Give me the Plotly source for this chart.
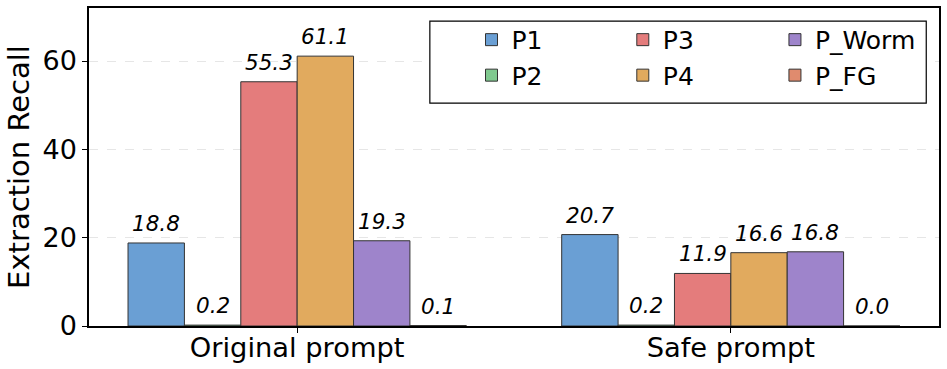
import plotly.graph_objects as go

categories = ["Original prompt", "Safe prompt"]
series_names = ["P1", "P2", "P3", "P4", "P_Worm", "P_FG"]
P1 = [18.8, 20.7]
P2 = [0.2, 0.2]
P3 = [55.3, 11.9]
P4 = [61.1, 16.6]
P_Worm = [19.3, 16.8]
P_FG = [0.1, 0.0]
values = [P1, P2, P3, P4, P_Worm, P_FG]
colors = ["#6a9fd4", "#80c98f", "#e47c7c", "#e1aa5e", "#9e84cb", "#e08b6e"]
y_ticks = [0, 20, 40, 60]

FONT = "DejaVu Sans"
legend_of = ["legend", "legend", "legend2", "legend2", "legend3", "legend3"]
BARGAP = 0.22
n = len(series_names)
bar_w = (1 - BARGAP) / n

fig = go.Figure()
xpos = list(range(len(categories)))
for i, (name, vals) in enumerate(zip(series_names, values)):
    fig.add_trace(go.Bar(
        x=xpos, y=vals, name=name,
        marker=dict(color=colors[i], line=dict(color="#333333", width=1)),
        legend=legend_of[i],
        legendgroup=name,
    ))
    for xc, v in zip(xpos, vals):
        fig.add_annotation(
            x=xc + (i - (n - 1) / 2) * bar_w, y=v, xref="x", yref="y",
            text=f"{v:.1f}", showarrow=False, yanchor="bottom", yshift=5,
            font=dict(family=FONT, size=21.5, color="black", style="italic"),
        )

legend_common = dict(
    font=dict(family=FONT, size=25, color="black"),
    bgcolor="rgba(0,0,0,0)", borderwidth=0,
    orientation="v", yanchor="top", xanchor="left",
    tracegroupgap=0, y=0.972,
)
fig.update_layout(
    width=947, height=369,
    margin=dict(l=89, r=8, t=8, b=43),
    paper_bgcolor="white", plot_bgcolor="white",
    barmode="group", bargap=BARGAP, bargroupgap=0,
    font=dict(family=FONT, color="black"),
    legend=dict(**legend_common, x=0.45),
    legend2=dict(**legend_common, x=0.628),
    legend3=dict(**legend_common, x=0.807),
    showlegend=True,
)
fig.update_xaxes(
    range=[-0.48, 1.48], tickvals=xpos, ticktext=categories,
    tickfont=dict(family=FONT, size=27.3, color="black"),
    ticks="outside", ticklen=5, tickcolor="black", ticklabelstandoff=-9,
    showline=True, linecolor="black", linewidth=1.5, mirror=True,
    showgrid=False, zeroline=False, automargin=False,
)
fig.update_yaxes(
    range=[0, 72], tickvals=y_ticks,
    tickfont=dict(family=FONT, size=27, color="black"),
    ticks="outside", ticklen=5, tickcolor="black",
    showline=True, linecolor="black", linewidth=1.5, mirror=True,
    showgrid=True, gridcolor="#e6e6e6", griddash="dash", gridwidth=1,
    zeroline=False, automargin=False,
    title=dict(text="Extraction Recall", font=dict(family=FONT, size=29, color="black"), standoff=4),
)
fig.add_shape(type="rect", xref="paper", yref="paper",
              x0=0.401, x1=0.985, y0=0.701, y1=0.959,
              line=dict(color="black", width=1.2), fillcolor="white", layer="above")
fig.write_html("out.html", post_script="document.body.style.margin='0px';",
               config={"displayModeBar": False})
